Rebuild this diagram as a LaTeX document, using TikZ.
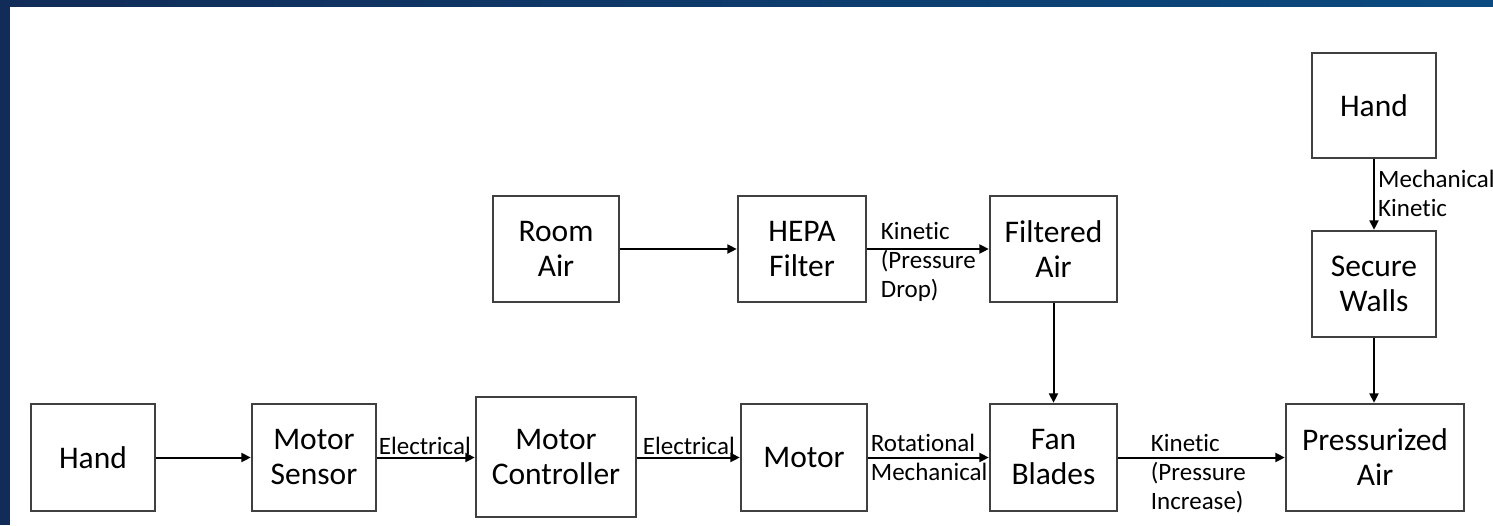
\documentclass[tikz,border=0pt]{standalone}
\usepackage{fontspec}
\setmainfont{Carlito}[Ligatures={NoCommon}]
\usetikzlibrary{arrows.meta,calc}
\definecolor{frameblueL}{HTML}{112C58}
\definecolor{frameblueR}{HTML}{0B4A80}
\definecolor{boxline}{HTML}{404040}
\tikzset{
  box/.style={draw=boxline, line width=1.4pt, fill=white, inner sep=0pt, align=center,
    font=\fontsize{31.5}{35}\selectfont, text=black},
  lbl/.style={inner sep=0pt, align=left, font=\fontsize{25}{29}\selectfont, text=black},
  arr/.style={draw=black, line width=2pt, -{Triangle[length=9.5pt,width=9pt]}, shorten >=0.5pt},
}
\begin{document}
\begin{tikzpicture}[x=1pt,y=-1pt]
\useasboundingbox (0,0) rectangle (1493,525);
\fill[white] (0,0) rectangle (1493,525);
% frame
\shade[left color=frameblueL, right color=frameblueR] (0,0) rectangle (1493,6);
\fill[frameblueL] (0,0) rectangle (10,525);

% bottom row
\node[box, minimum width=124pt, minimum height=107pt] (hand1) at (93,457.5) {Hand};
\node[box, minimum width=124pt, minimum height=107pt] (sensor) at (314,457.5) {Motor\\Sensor};
\node[box, minimum width=160pt, minimum height=120pt] (controller) at (556,457) {Motor\\Controller};
\node[box, minimum width=126pt, minimum height=107pt] (motor) at (804,457.5) {Motor};
\node[box, minimum width=127pt, minimum height=107pt] (fan) at (1053.5,457.5) {Fan\\Blades};
\node[box, minimum width=178pt, minimum height=107pt] (press) at (1375,457.5) {Pressurized\\Air};

% top row
\node[box, minimum width=126pt, minimum height=106pt] (room) at (556,249) {Room\\Air};
\node[box, minimum width=128pt, minimum height=106pt] (hepa) at (802,249) {HEPA\\Filter};
\node[box, minimum width=127pt, minimum height=106pt] (filtered) at (1053.5,249) {Filtered\\Air};

% right column
\node[box, minimum width=124pt, minimum height=105pt] (hand2) at (1374,105.5) {Hand};
\node[box, minimum width=124pt, minimum height=106pt] (walls) at (1374,284) {Secure\\Walls};

% connectors
\draw[arr] (hand1.east) -- (sensor.west);
\draw[arr] (sensor.east) -- (sensor.east -| controller.west);
\draw[arr] (controller.east |- motor.west) -- (motor.west);
\draw[arr] (motor.east) -- (fan.west);
\draw[arr] (fan.east) -- (press.west);
\draw[arr] (room.east) -- (hepa.west);
\draw[arr] (hepa.east) -- (filtered.west);
\draw[arr] (filtered.south) -- (fan.north);
\draw[arr] (hand2.south) -- (walls.north);
\draw[arr] (walls.south) -- (walls.south |- press.north);

% labels (base anchor = baseline of last line)
\node[lbl, anchor=base west] (l1) at ([xshift=2pt,yshift=3pt]sensor.east) {Electrical};
\node[lbl, anchor=base west] (l2) at ([xshift=6pt,yshift=3pt]controller.east |- motor.west) {Electrical};
\node[lbl, anchor=base west] (l3) at ([xshift=3pt,yshift=-23pt]motor.east) {Rotational\\Mechanical};
\node[lbl, anchor=base west] (l4) at ([xshift=33pt,yshift=-52pt]fan.east) {Kinetic\\(Pressure\\Increase)};
\node[lbl, anchor=base west] (l5) at ([xshift=14pt,yshift=-48pt]hepa.east) {Kinetic\\(Pressure\\Drop)};
\node[lbl, anchor=base west] (l6) at ([xshift=4pt,yshift=-58pt]hand2.south) {Mechanical\\Kinetic};
\end{tikzpicture}
\end{document}
